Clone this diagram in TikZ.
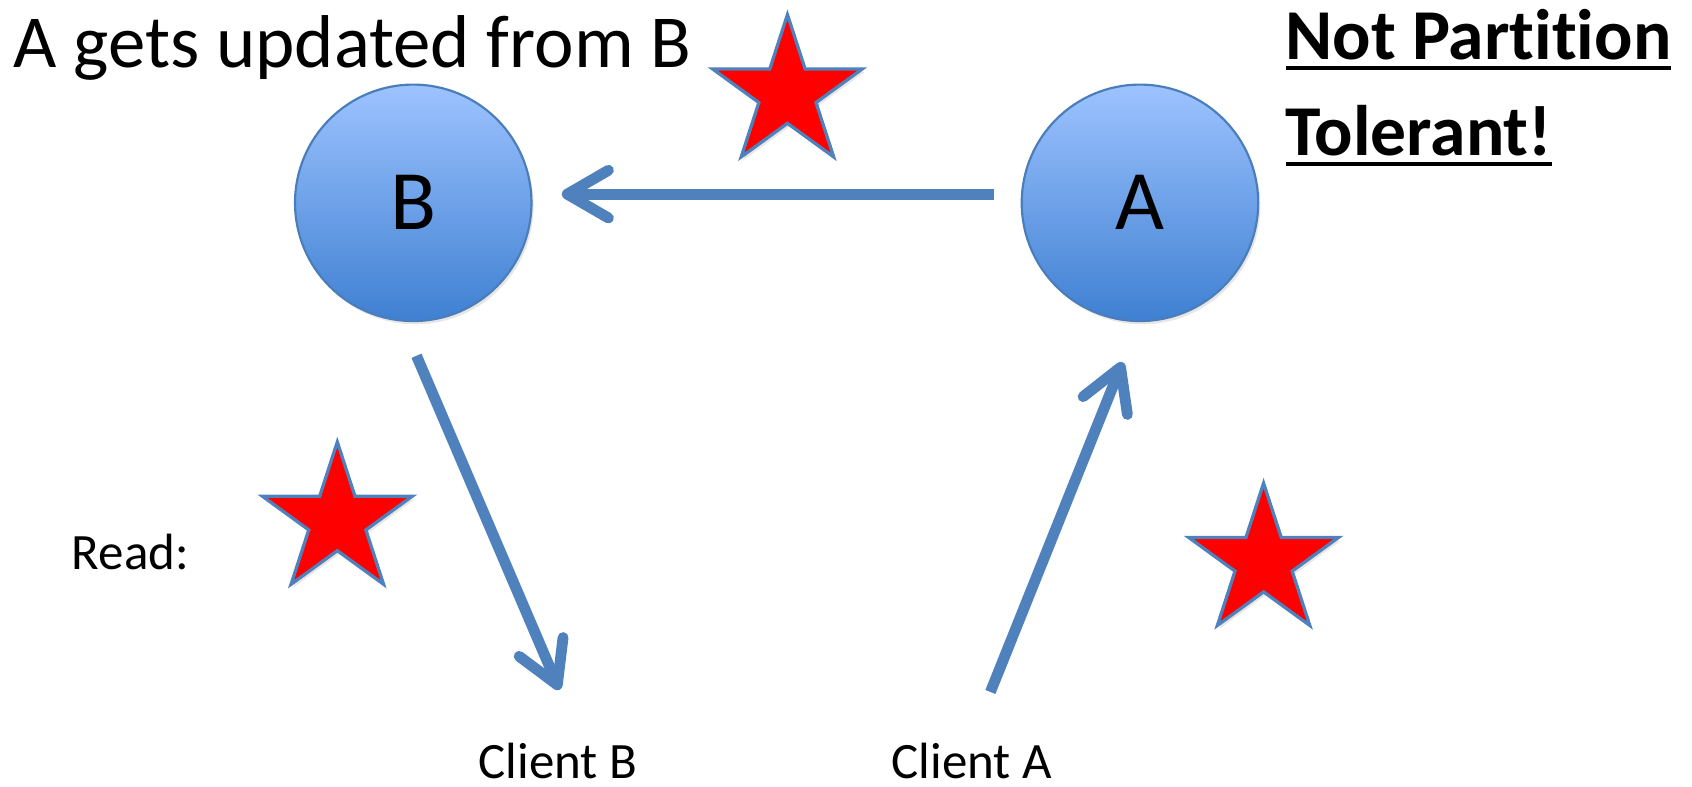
\documentclass[tikz,border=0pt]{standalone}
\usepackage{fontspec}
\setmainfont[Ligatures=NoCommon]{Carlito}
\usetikzlibrary{positioning,calc,arrows.meta,shapes.geometric,shadows}
\definecolor{arrowblue}{HTML}{4F81BD}
\definecolor{rimblue}{HTML}{4A7EBB}
\definecolor{topblue}{HTML}{9DC3FF}
\definecolor{botblue}{HTML}{3F80D2}
\newcommand*{\ulword}[1]{\setbox0=\hbox{#1}\rlap{\rule[-10pt]{\wd0}{4pt}}\box0}

\begin{document}
\begin{tikzpicture}[x=1pt,y=-1pt,
  server/.style={circle,draw=rimblue,line width=2pt,top color=topblue,
    bottom color=botblue,minimum size=218pt,inner sep=0pt,
    drop shadow={opacity=0.2,shadow xshift=2pt,shadow yshift=-3pt},
    font=\fontsize{78}{78}\selectfont},
  link/.style={draw=arrowblue,line width=10pt,
    -{Straight Barb[length=38pt,width=44pt,round]}},
  redstar/.style={star,star points=5,star point ratio=2.618,draw=arrowblue,
    line width=3pt,fill=red,minimum size=145pt,inner sep=0pt,
    drop shadow={opacity=0.2,shadow xshift=2pt,shadow yshift=-3pt}},
  txt/.style={anchor=base west,inner sep=0pt,font=\fontsize{47}{56}\selectfont}]
\useasboundingbox (0,0) rectangle (1560,724.7);
% Headline and verdict
\node[anchor=base west,inner sep=0pt,font=\fontsize{69}{80}\selectfont] (title) at (12,62) {A gets updated from B};
\node[anchor=base west,inner sep=0pt,font=\fontsize{66}{80}\selectfont\bfseries] (notpt) at (1185,55) {\ulword{Not Partition}};
\node[anchor=base west,inner sep=0pt,font=\fontsize{66}{80}\selectfont\bfseries] (toler) at (1185,143) {\ulword{Tolerant!}};
% The two replicas
\node[server] (B) at (381,187) {B};
\node[server] (A) at (1051,187) {A};
% Stars
\node[redstar] (starAB) at (726,86) {};
\node[redstar] (starRead) at (311,480) {};
\node[redstar] (starA) at (1165,518) {};
% Clients
\node[txt] (read) at (66,525) {Read:};
\node[txt] (clientB) at (441,718) {Client B};
\node[txt] (clientA) at (822,718) {Client A};
% Update and requests
\draw[link] ($(A.west)+(-25,-8)$) -- ($(B.east)+(27,-8)$);
\draw[link] ($(B.south)+(3,31)$) -- ($(clientB.base)+(1.5,-82)$);
\draw[link] ($(clientA.base)+(17,-80)$) -- ($(A.south)+(-16,37)$);
\end{tikzpicture}
\end{document}
